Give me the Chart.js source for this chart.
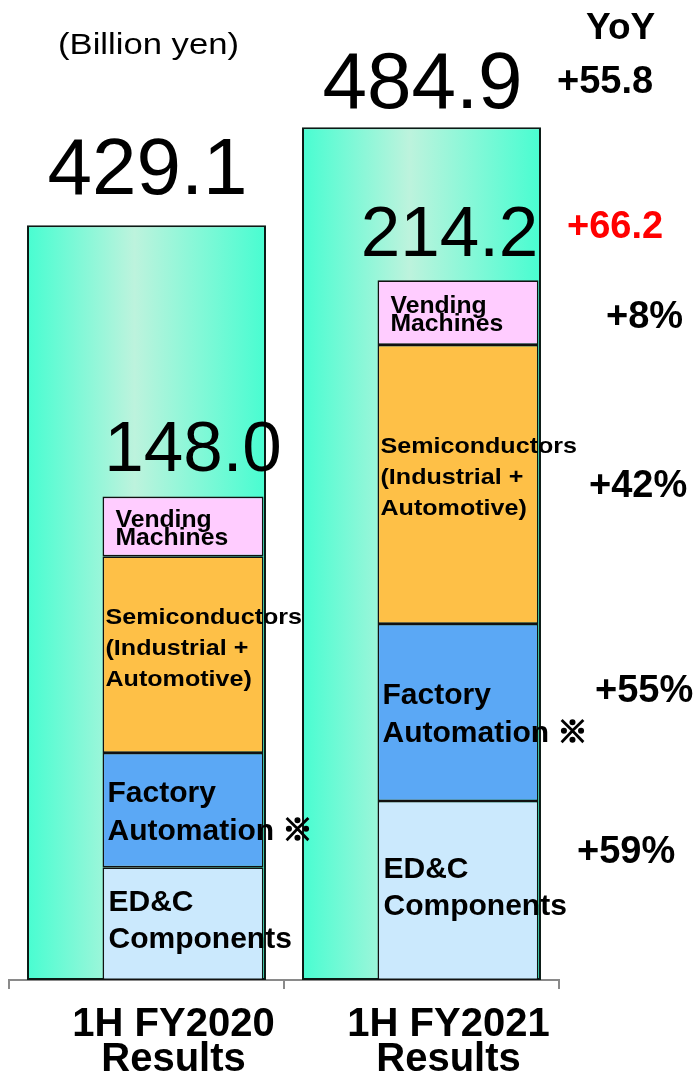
<!DOCTYPE html>
<html>
<head>
<meta charset="utf-8">
<script src="https://cdn.jsdelivr.net/npm/chart.js@4/dist/chart.umd.min.js"></script>
<style>
  body { margin: 0; background: #fff; }
  #wrap { width: 697px; height: 1076px; position: relative; }
</style>
</head>
<body>
<div id="wrap"><canvas id="grafica-ventas"></canvas></div>
<script>
// datos (miles de millones de yenes)
const categories = [['1H FY2020', 'Results'], ['1H FY2021', 'Results']];
const totalSales = [429.1, 484.9];
const segmentTotals = [148.0, 214.2];
const edcComponents = [34.5, 54.8];
const factoryAutomation = [35.0, 54.2];
const semiconductors = [60.2, 85.4];
const vendingMachines = [18.3, 19.8];
const segmentNames = [
  ['ED&C', 'Components'],
  ['Factory', 'Automation ※'],
  ['Semiconductors', '(Industrial +', 'Automotive)'],
  ['Vending', 'Machines']
];
const yoyTotal = '+55.8';
const yoySegments = '+66.2';
const yoyPct = ['+59%', '+55%', '+42%', '+8%'];

const FONT = '"Liberation Sans", Arial, "Noto Sans CJK JP", sans-serif';
const BAR_PCT = 0.869;
// la barra de segmentos va desplazada a la derecha: se agrupa con una pila vacia
const SEG_CAT_PCT = 0.531;
const SEG_BAR_PCT = 2.205;

function totalGradient(ctx) {
  const chart = ctx.chart;
  const xs = chart.scales.x;
  if (!chart.chartArea || !xs) return '#4cfcd2';
  const c = xs.getPixelForValue(ctx.dataIndex);
  const half = xs.width / categories.length * BAR_PCT / 2;
  const g = chart.ctx.createLinearGradient(c - half, 0, c + half, 0);
  g.addColorStop(0, '#48fdd1');
  g.addColorStop(0.45, '#bdf3dd');
  g.addColorStop(1, '#48fdd1');
  return g;
}

// estilo de las etiquetas de cada segmento
const segStyle = [
  { size: 30, lh: 37, dx: 6, dy: -5, sx: 1 },
  { size: 30, lh: 38, dx: 5, dy: 0, sx: 1 },
  { size: 22, lh: 31, dx: 3, dy: -8, sx: 1.14 },
  { size: 24, lh: 18, dx: 13, dy: 1, sx: 1.03 }
];

function drawText(ctx, text, x, y, font, color, sx) {
  ctx.save();
  ctx.font = font;
  ctx.fillStyle = color || '#000';
  ctx.textBaseline = 'alphabetic';
  ctx.textAlign = 'left';
  ctx.translate(x, y);
  ctx.scale(sx || 1, 1);
  ctx.fillText(text, 0, 0);
  if (text.indexOf('※') >= 0) {
    // el simbolo sale muy fino, se engruesa un poco
    const pre = text.slice(0, text.indexOf('※'));
    ctx.strokeStyle = color || '#000';
    ctx.lineWidth = 1.6;
    ctx.strokeText('※', ctx.measureText(pre).width, 0);
  }
  ctx.restore();
}

const labelsPlugin = {
  id: 'etiquetas',
  afterDatasetsDraw(chart) {
    const ctx = chart.ctx;
    const y = chart.scales.y;
    const y2 = chart.scales.y2;
    const x = chart.scales.x;
    const segMeta = chart.getDatasetMeta(2);

    // unidad
    ctx.save();
    ctx.font = '30px ' + FONT;
    const w = ctx.measureText('(Billion yen)').width;
    ctx.restore();
    drawText(ctx, '(Billion yen)', 58, 54, '30px ' + FONT, '#000', 181 / w);

    // totales
    const totGap = [31, 19];
    ctx.save();
    ctx.font = '80px ' + FONT;
    ctx.textAlign = 'center';
    ctx.fillStyle = '#000';
    totalSales.forEach((v, i) => {
      ctx.fillText(v.toFixed(1), x.getPixelForValue(i) + 1, y.getPixelForValue(v) - totGap[i]);
    });
    ctx.font = '71px ' + FONT;
    const segDx = [10, -8.5];
    const segGap = [26, 24];
    segmentTotals.forEach((v, i) => {
      ctx.fillText(v.toFixed(1), segMeta.data[i].x + segDx[i], y2.getPixelForValue(v) - segGap[i]);
    });
    ctx.restore();

    // nombres de segmentos
    for (let s = 0; s < 4; s++) {
      const meta = chart.getDatasetMeta(s + 2);
      const st = segStyle[s];
      const lines = segmentNames[s];
      meta.data.forEach(bar => {
        const left = bar.x - bar.width / 2;
        const center = (bar.y + bar.base) / 2;
        const cap = st.size * 0.716;
        const first = center + st.dy - ((lines.length - 1) * st.lh - cap) / 2;
        lines.forEach((t, k) => {
          drawText(ctx, t, left + st.dx, first + k * st.lh, 'bold ' + st.size + 'px ' + FONT, '#000', st.sx);
        });
      });
    }

    // variacion anual
    drawText(ctx, 'YoY', 586, 39, 'bold 37px ' + FONT, '#000');
    drawText(ctx, yoyTotal, 557, 93, 'bold 38px ' + FONT, '#000');
    drawText(ctx, yoySegments, 567, 238, 'bold 38px ' + FONT, '#ff0000');
    const pctPos = [[577, 863], [595, 702], [589, 497], [606, 328]];
    yoyPct.forEach((t, i) => {
      drawText(ctx, t, pctPos[i][0], pctPos[i][1], 'bold 38px ' + FONT, '#000');
    });
  }
};

function segDataset(label, values, color) {
  return {
    label: label,
    data: values,
    backgroundColor: color,
    borderColor: '#111',
    borderWidth: 1.6,
    borderSkipped: false,
    stack: 'seg',
    categoryPercentage: SEG_CAT_PCT,
    barPercentage: SEG_BAR_PCT,
    yAxisID: 'y2',
    order: 1
  };
}

const ctx = document.getElementById('grafica-ventas').getContext('2d');
new Chart(ctx, {
  type: 'bar',
  data: {
    labels: categories,
    datasets: [
      {
        label: 'Total',
        data: totalSales,
        backgroundColor: totalGradient,
        borderColor: '#0b1a15',
        borderWidth: 2,
        borderSkipped: false,
        grouped: false,
        barPercentage: BAR_PCT,
        categoryPercentage: 1,
        yAxisID: 'y',
        order: 2
      },
      {
        label: 'hueco',
        data: categories.map(() => null),
        backgroundColor: 'rgba(0,0,0,0)',
        borderWidth: 0,
        stack: 'pad',
        categoryPercentage: SEG_CAT_PCT,
        yAxisID: 'y2',
        order: 1
      },
      segDataset('ED&C Components', edcComponents, '#cbe9fd'),
      segDataset('Factory Automation', factoryAutomation, '#5ba8f5'),
      segDataset('Semiconductors', semiconductors, '#fec047'),
      segDataset('Vending Machines', vendingMachines, '#ffccff')
    ]
  },
  options: {
    responsive: true,
    maintainAspectRatio: false,
    animation: false,
    layout: { padding: { left: 9, right: 138, top: 0, bottom: -19 } },
    plugins: {
      legend: { display: false },
      tooltip: { enabled: false }
    },
    scales: {
      x: {
        type: 'category',
        offset: true,
        border: { display: true, color: '#8a8a8a', width: 2 },
        grid: {
          offset: true,
          drawOnChartArea: false,
          drawTicks: true,
          tickLength: 9,
          color: '#8a8a8a',
          lineWidth: 2
        },
        ticks: {
          color: '#000',
          padding: 18,
          labelOffset: 27,
          maxRotation: 0,
          font: { family: FONT, size: 40, weight: 'bold', lineHeight: 0.875 }
        }
      },
      y: { display: false, min: 0, max: 557.2 },
      y2: { display: false, min: 0, max: 300, stacked: true }
    }
  },
  plugins: [labelsPlugin]
});
</script>
</body>
</html>
